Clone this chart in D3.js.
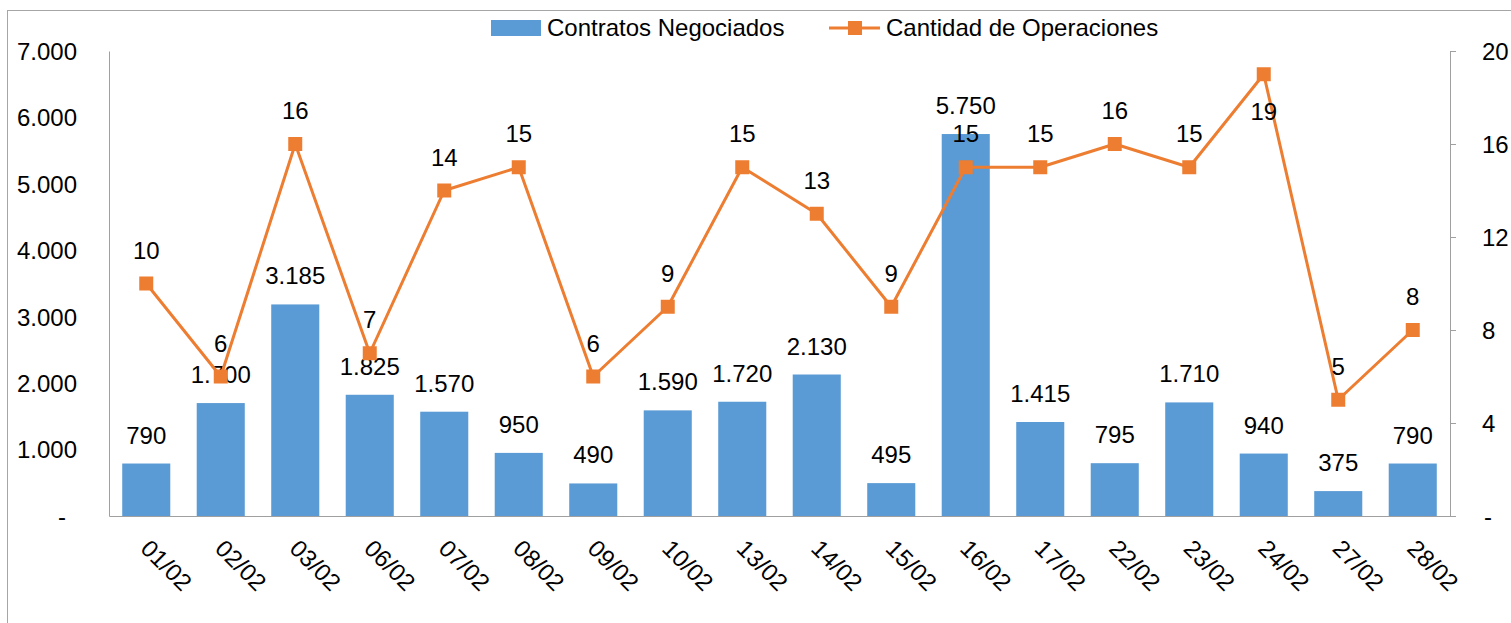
<!DOCTYPE html>
<html>
<head>
<meta charset="utf-8">
<script src="https://cdn.jsdelivr.net/npm/d3@7"></script>
<style>
    body { margin: 0; background: #fff; }
    svg text { font-family: "Liberation Sans", Arial, sans-serif; fill: #000; }
</style>
</head>
<body>
<div id="chart"></div>
<script>
// categories and series
var fechas = ["01/02", "02/02", "03/02", "06/02", "07/02", "08/02", "09/02", "10/02", "13/02",
    "14/02", "15/02", "16/02", "17/02", "22/02", "23/02", "24/02", "27/02", "28/02"];
var contratos = [790, 1700, 3185, 1825, 1570, 950, 490, 1590, 1720, 2130, 495, 5750, 1415, 795, 1710, 940, 375, 790];
var operaciones = [10, 6, 16, 7, 14, 15, 6, 9, 15, 13, 9, 15, 15, 16, 15, 19, 5, 8];
var leftTicks = [0, 1000, 2000, 3000, 4000, 5000, 6000, 7000];
var rightTicks = [0, 4, 8, 12, 16, 20];

var blue = "#5B9BD5", orange = "#ED7D31", axisGray = "#A0A0A0";

// numbers with a dot as thousands separator, "-" for zero
function fmt(v) {
    if (v === 0) return "-";
    return v.toString().replace(/\B(?=(\d{3})+(?!\d))/g, ".");
}

var svg = d3.select("#chart").append("svg")
    .attr("width", 1511)
    .attr("height", 623);

// chart border
svg.append("rect")
    .attr("x", 7.5).attr("y", 10.5)
    .attr("width", 1510).attr("height", 640)
    .attr("fill", "none")
    .attr("stroke", "#A6A6A6")
    .attr("stroke-width", 1);

var plot = {left: 109, right: 1450, top: 51, bottom: 516};

var x = d3.scaleBand()
    .domain(fechas)
    .range([plot.left, plot.right])
    .paddingInner(0.355)
    .paddingOuter(0.1775);

var yL = d3.scaleLinear().domain([0, 7000]).range([plot.bottom, plot.top]);
var yR = d3.scaleLinear().domain([0, 20]).range([plot.bottom, plot.top]);

function cx(d) { return x(d) + x.bandwidth() / 2; }

// bars
svg.selectAll(".bar")
    .data(fechas)
    .enter().append("rect")
    .attr("class", "bar")
    .attr("x", function (d) { return x(d); })
    .attr("width", x.bandwidth())
    .attr("y", function (d, i) { return yL(contratos[i]); })
    .attr("height", function (d, i) { return yL(0) - yL(contratos[i]); })
    .attr("fill", blue);

// left axis
var gL = svg.append("g")
    .attr("transform", "translate(" + plot.left + ",0)")
    .call(d3.axisLeft(yL).tickValues(leftTicks).tickSize(0).tickPadding(32).tickFormat(fmt));
gL.select(".domain").attr("stroke", axisGray);
gL.selectAll("text").style("font-size", "24px").attr("dy", "0.35em");
gL.selectAll(".tick").filter(function (d) { return d === 0; }).select("text").attr("x", -43);

// right axis
var gR = svg.append("g")
    .attr("transform", "translate(" + plot.right + ",0)")
    .call(d3.axisRight(yR).tickValues(rightTicks).tickSize(6).tickSizeOuter(6).tickPadding(26).tickFormat(fmt));
gR.select(".domain").attr("stroke", axisGray);
gR.selectAll(".tick line").attr("stroke", axisGray);
gR.selectAll("text").style("font-size", "24px").attr("dy", "0.35em");
gR.selectAll(".tick").filter(function (d) { return d === 0; }).select("text").attr("x", 34);

// bottom axis
var gB = svg.append("g")
    .attr("transform", "translate(0," + plot.bottom + ")")
    .call(d3.axisBottom(x).tickSize(0).tickFormat(""));
gB.select(".domain").attr("stroke", axisGray);

// rotated date labels
svg.selectAll(".xlab")
    .data(fechas)
    .enter().append("text")
    .attr("class", "xlab")
    .attr("transform", function (d) { return "translate(" + (cx(d) - 1) + "," + (plot.bottom + 28) + ") rotate(45)"; })
    .attr("text-anchor", "start")
    .attr("dy", "0.35em")
    .style("font-size", "24px")
    .text(function (d) { return d; });

// bar value labels
svg.selectAll(".barlab")
    .data(fechas)
    .enter().append("text")
    .attr("class", "barlab")
    .attr("x", cx)
    .attr("y", function (d, i) { return yL(contratos[i]) - 20; })
    .attr("text-anchor", "middle")
    .style("font-size", "24px")
    .text(function (d, i) { return fmt(contratos[i]); });

// line series
var line = d3.line()
    .x(function (d) { return cx(d[0]); })
    .y(function (d) { return yR(d[1]); });
var pts = fechas.map(function (d, i) { return [d, operaciones[i]]; });

svg.append("path")
    .attr("d", line(pts))
    .attr("fill", "none")
    .attr("stroke", orange)
    .attr("stroke-width", 3)
    .attr("stroke-linejoin", "round");

svg.selectAll(".marker")
    .data(pts)
    .enter().append("rect")
    .attr("class", "marker")
    .attr("x", function (d) { return cx(d[0]) - 7; })
    .attr("y", function (d) { return yR(d[1]) - 7; })
    .attr("width", 14)
    .attr("height", 14)
    .attr("fill", orange);

// labels go above the point, or below it when there is no room at the top
svg.selectAll(".linelab")
    .data(pts)
    .enter().append("text")
    .attr("class", "linelab")
    .attr("x", function (d) { return cx(d[0]); })
    .attr("y", function (d) {
        var yy = yR(d[1]);
        return (yy - 45 < plot.top) ? yy + 46 : yy - 25;
    })
    .attr("text-anchor", "middle")
    .style("font-size", "24px")
    .text(function (d) { return fmt(d[1]); });

// legend
var leg = svg.append("g");
leg.append("rect")
    .attr("x", 491).attr("y", 20).attr("width", 50).attr("height", 16)
    .attr("fill", blue);
leg.append("text")
    .attr("x", 547).attr("y", 28).attr("dy", "0.35em")
    .style("font-size", "24px")
    .text("Contratos Negociados");
leg.append("line")
    .attr("x1", 829).attr("x2", 880).attr("y1", 28).attr("y2", 28)
    .attr("stroke", orange).attr("stroke-width", 3);
leg.append("rect")
    .attr("x", 848).attr("y", 21).attr("width", 14).attr("height", 14)
    .attr("fill", orange);
leg.append("text")
    .attr("x", 886).attr("y", 28).attr("dy", "0.35em")
    .style("font-size", "24px")
    .text("Cantidad de Operaciones");
</script>
</body>
</html>
